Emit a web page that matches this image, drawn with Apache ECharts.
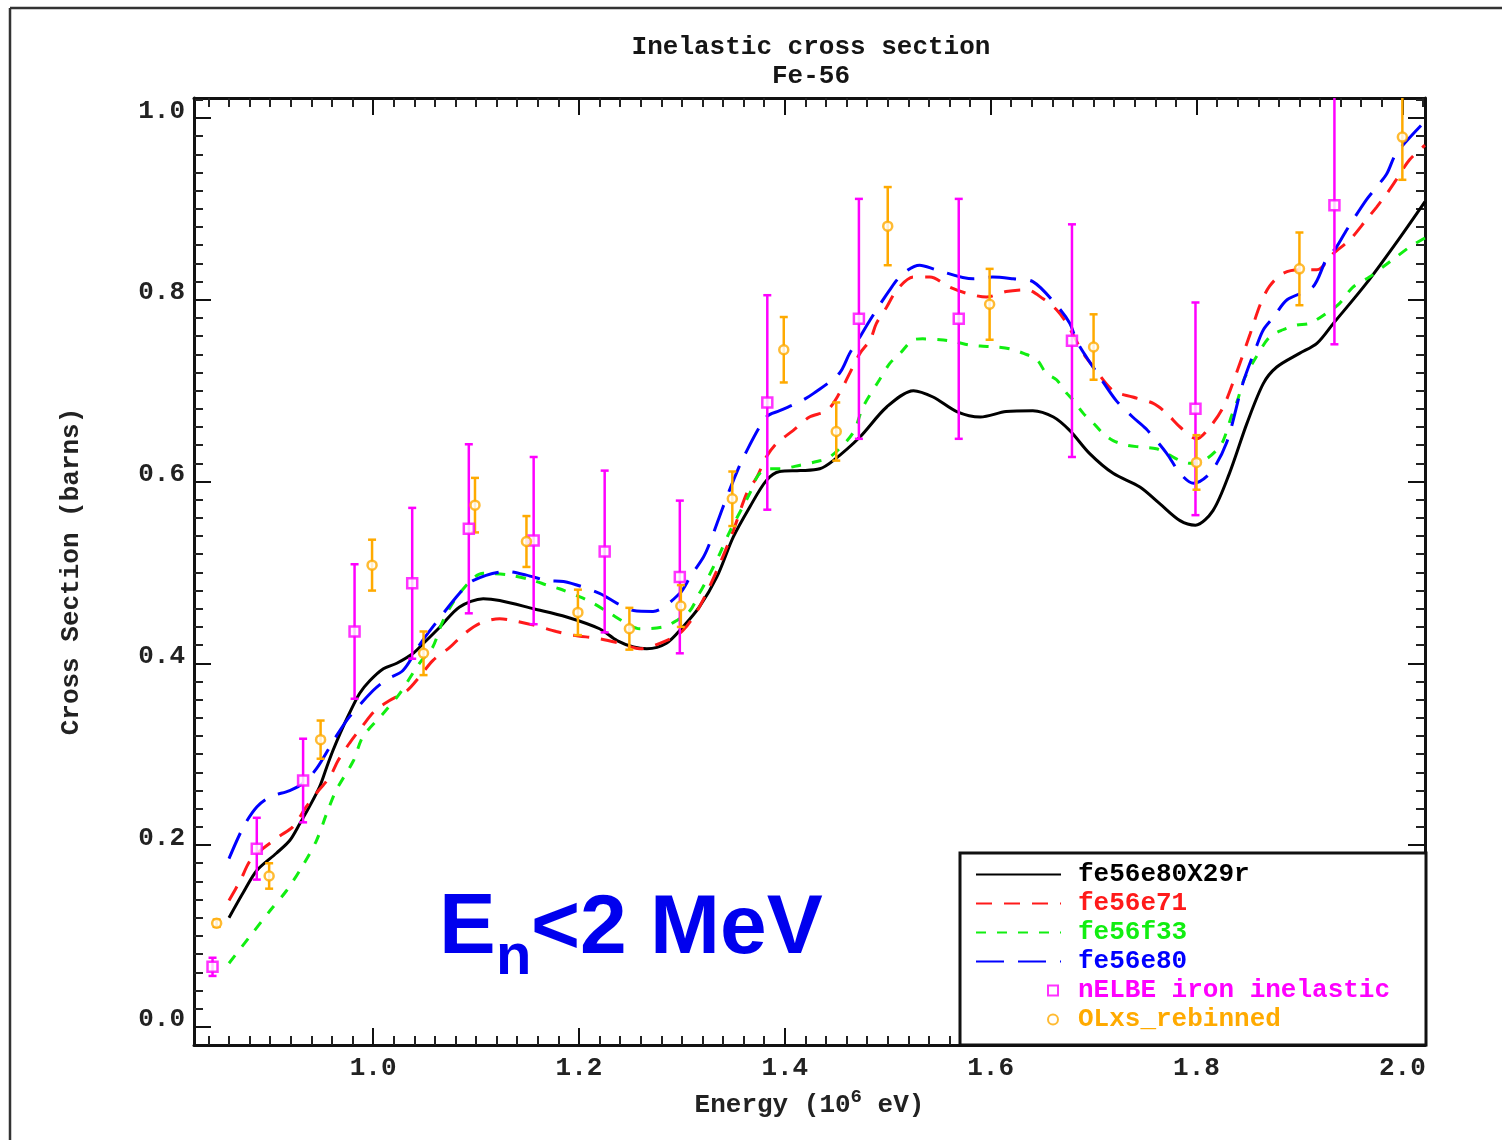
<!DOCTYPE html>
<html><head><meta charset="utf-8">
<script src="https://cdn.jsdelivr.net/npm/echarts@6/dist/echarts.min.js"></script>
<style>html,body{margin:0;padding:0;background:#fff}#c{width:1502px;height:1140px}</style>
</head><body><div id="c"></div>
<script>
// ---------- data ----------
const xTickLabels = ['1.0', '1.2', '1.4', '1.6', '1.8', '2.0'];
const yTickLabels = ['0.0', '0.2', '0.4', '0.6', '0.8', '1.0'];

const fe56e80X29r = [[0.860,0.120],[0.874,0.148],[0.887,0.172],[0.906,0.191],[0.919,0.205],[0.929,0.224],[0.938,0.242],[0.948,0.264],[0.955,0.286],[0.961,0.304],[0.968,0.323],[0.977,0.345],[0.987,0.367],[0.997,0.381],[1.010,0.394],[1.023,0.400],[1.039,0.411],[1.049,0.422],[1.065,0.440],[1.084,0.462],[1.107,0.471],[1.123,0.469],[1.156,0.460],[1.188,0.451],[1.220,0.438],[1.237,0.425],[1.253,0.418],[1.266,0.416],[1.285,0.422],[1.301,0.440],[1.317,0.462],[1.334,0.495],[1.350,0.539],[1.366,0.572],[1.382,0.601],[1.395,0.611],[1.415,0.612],[1.434,0.614],[1.447,0.623],[1.473,0.649],[1.499,0.682],[1.525,0.700],[1.544,0.693],[1.567,0.677],[1.590,0.671],[1.615,0.677],[1.641,0.678],[1.661,0.671],[1.677,0.656],[1.696,0.631],[1.719,0.609],[1.745,0.594],[1.764,0.576],[1.784,0.557],[1.799,0.552],[1.816,0.568],[1.832,0.609],[1.849,0.664],[1.865,0.708],[1.878,0.726],[1.900,0.741],[1.917,0.752],[1.933,0.774],[1.965,0.818],[1.998,0.869],[2.022,0.908]];

const fe56e71 = [[0.860,0.139],[0.871,0.161],[0.882,0.185],[0.908,0.209],[0.922,0.220],[0.935,0.242],[0.947,0.260],[0.958,0.275],[0.966,0.293],[0.977,0.312],[0.989,0.330],[1.002,0.348],[1.016,0.359],[1.033,0.370],[1.045,0.385],[1.058,0.403],[1.075,0.418],[1.087,0.431],[1.104,0.444],[1.123,0.449],[1.136,0.447],[1.156,0.442],[1.178,0.435],[1.194,0.431],[1.220,0.427],[1.240,0.422],[1.259,0.416],[1.285,0.425],[1.301,0.436],[1.317,0.462],[1.334,0.502],[1.350,0.546],[1.363,0.587],[1.373,0.605],[1.382,0.627],[1.392,0.642],[1.408,0.656],[1.424,0.671],[1.441,0.678],[1.453,0.697],[1.463,0.719],[1.473,0.741],[1.483,0.756],[1.489,0.774],[1.499,0.792],[1.509,0.811],[1.525,0.825],[1.541,0.825],[1.560,0.814],[1.577,0.807],[1.596,0.803],[1.615,0.809],[1.635,0.811],[1.651,0.801],[1.664,0.789],[1.674,0.774],[1.690,0.741],[1.700,0.726],[1.719,0.700],[1.738,0.693],[1.758,0.686],[1.771,0.675],[1.784,0.660],[1.800,0.647],[1.813,0.660],[1.826,0.682],[1.839,0.720],[1.852,0.762],[1.862,0.795],[1.871,0.815],[1.884,0.829],[1.900,0.833],[1.917,0.833],[1.933,0.851],[1.949,0.866],[1.965,0.888],[1.975,0.902],[1.985,0.917],[1.994,0.932],[2.007,0.954],[2.022,0.970]];

const fe56f33 = [[0.860,0.070],[0.880,0.099],[0.900,0.128],[0.916,0.150],[0.932,0.178],[0.945,0.205],[0.955,0.235],[0.964,0.260],[0.981,0.293],[0.990,0.319],[1.010,0.345],[1.026,0.367],[1.045,0.400],[1.058,0.418],[1.068,0.447],[1.084,0.477],[1.107,0.499],[1.133,0.497],[1.156,0.491],[1.169,0.486],[1.181,0.482],[1.201,0.473],[1.214,0.466],[1.230,0.455],[1.246,0.444],[1.259,0.438],[1.282,0.440],[1.295,0.447],[1.308,0.458],[1.317,0.477],[1.324,0.491],[1.337,0.521],[1.347,0.546],[1.366,0.587],[1.373,0.605],[1.382,0.614],[1.395,0.614],[1.415,0.618],[1.431,0.622],[1.444,0.627],[1.466,0.653],[1.476,0.682],[1.492,0.712],[1.502,0.730],[1.512,0.741],[1.525,0.756],[1.534,0.757],[1.551,0.756],[1.564,0.754],[1.580,0.750],[1.590,0.749],[1.606,0.748],[1.619,0.746],[1.632,0.741],[1.645,0.734],[1.654,0.719],[1.664,0.712],[1.674,0.697],[1.680,0.690],[1.690,0.675],[1.700,0.664],[1.709,0.653],[1.719,0.645],[1.732,0.640],[1.745,0.638],[1.761,0.636],[1.771,0.631],[1.784,0.623],[1.794,0.620],[1.807,0.623],[1.820,0.635],[1.826,0.645],[1.834,0.672],[1.840,0.690],[1.846,0.712],[1.858,0.737],[1.871,0.759],[1.884,0.767],[1.897,0.772],[1.910,0.774],[1.926,0.785],[1.939,0.796],[1.952,0.814],[1.968,0.825],[1.981,0.836],[1.994,0.847],[2.007,0.858],[2.022,0.868]];

const fe56e80 = [[0.860,0.185],[0.874,0.220],[0.887,0.242],[0.900,0.253],[0.919,0.260],[0.932,0.268],[0.945,0.284],[0.958,0.308],[0.966,0.323],[0.977,0.341],[1.000,0.370],[1.013,0.382],[1.029,0.392],[1.045,0.420],[1.058,0.440],[1.084,0.477],[1.097,0.491],[1.130,0.501],[1.149,0.497],[1.169,0.491],[1.185,0.490],[1.220,0.477],[1.237,0.466],[1.253,0.458],[1.272,0.457],[1.298,0.477],[1.308,0.495],[1.321,0.517],[1.327,0.532],[1.340,0.572],[1.350,0.601],[1.360,0.627],[1.382,0.671],[1.395,0.678],[1.415,0.688],[1.428,0.697],[1.453,0.719],[1.463,0.741],[1.473,0.759],[1.483,0.778],[1.502,0.811],[1.515,0.829],[1.531,0.838],[1.547,0.833],[1.583,0.823],[1.602,0.825],[1.622,0.823],[1.641,0.820],[1.664,0.794],[1.677,0.774],[1.683,0.756],[1.693,0.737],[1.706,0.715],[1.722,0.689],[1.738,0.671],[1.751,0.658],[1.771,0.631],[1.784,0.609],[1.797,0.598],[1.813,0.609],[1.829,0.642],[1.845,0.708],[1.858,0.748],[1.865,0.767],[1.875,0.781],[1.888,0.800],[1.913,0.814],[1.926,0.844],[1.936,0.858],[1.946,0.877],[1.965,0.910],[1.975,0.924],[1.985,0.939],[1.994,0.961],[2.020,0.994]];

const nelbeX   = [0.844,0.887,0.932,0.982,1.038,1.093,1.156,1.225,1.298,1.383,1.472,1.569,1.679,1.799,1.934];
const nelbeY   = [0.066,0.196,0.271,0.435,0.488,0.548,0.535,0.523,0.495,0.687,0.779,0.779,0.755,0.680,0.904];
const nelbeErr = [0.010,0.034,0.046,0.074,0.083,0.093,0.092,0.089,0.084,0.118,0.132,0.132,0.128,0.117,0.153];

const olxsX   = [0.848,0.899,0.949,0.999,1.049,1.099,1.149,1.199,1.249,1.299,1.349,1.399,1.450,1.500,1.599,1.700,1.800,1.900,2.000];
const olxsY   = [0.114,0.166,0.316,0.508,0.411,0.574,0.534,0.456,0.438,0.463,0.581,0.745,0.655,0.881,0.795,0.748,0.621,0.834,0.979];
const olxsErr = [0.004,0.014,0.021,0.028,0.024,0.030,0.028,0.025,0.023,0.023,0.030,0.036,0.032,0.043,0.039,0.036,0.030,0.040,0.047];

// ---------- chart ----------
const X_MIN = 0.826, X_MAX = 2.022, Y_MIN = -0.02, Y_MAX = 1.022;
const MONO = '"Liberation Mono", "DejaVu Sans Mono", monospace';
const C_RED = '#ff1a1a', C_GREEN = '#11ee11', C_BLUE = '#0000ff', C_MAG = '#ff00ff', C_ORA = '#ffaa00';

function tickFmt(labels) {
  return function (v) {
    for (const s of labels) { if (Math.abs(parseFloat(s) - v) < 1e-6) return s; }
    return '';
  };
}
const tickStyle = { inside: true, length: 17, lineStyle: { color: '#111', width: 2 } };
const minorStyle = { show: true, splitNumber: 10, length: 9, lineStyle: { color: '#222', width: 2 } };
const lineAx = { show: true, onZero: false, lineStyle: { color: '#111', width: 3 } };
const labelFont = { fontFamily: MONO, fontSize: 26, fontWeight: 'bold', color: '#222' };

function makeErr(color, capHalf) {
  return function (params, api) {
    const x = api.value(0);
    let lo = api.value(1), hi = api.value(2);
    const capTop = hi <= Y_MAX, capBot = lo >= Y_MIN;
    hi = Math.min(hi, Y_MAX); lo = Math.max(lo, Y_MIN);
    const a = api.coord([x, lo]), b = api.coord([x, hi]);
    const st = { stroke: color, lineWidth: 2.5 };
    const ch = [{ type: 'line', shape: { x1: a[0], y1: a[1], x2: b[0], y2: b[1] }, style: st }];
    if (capTop) ch.push({ type: 'line', shape: { x1: b[0] - capHalf, y1: b[1], x2: b[0] + capHalf, y2: b[1] }, style: st });
    if (capBot) ch.push({ type: 'line', shape: { x1: a[0] - capHalf, y1: a[1], x2: a[0] + capHalf, y2: a[1] }, style: st });
    return { type: 'group', children: ch };
  };
}

function curve(name, data, color, dash) {
  return { name: name, type: 'line', data: data, symbol: 'none', showSymbol: false, smooth: 0.3, z: 3,
    lineStyle: { color: color, width: 3, type: dash }, itemStyle: { color: color } };
}

const chart = echarts.init(document.getElementById('c'), null, { renderer: 'canvas' });
const option = {
  animation: false,
  backgroundColor: '#fff',
  title: {
    text: 'Inelastic cross section\nFe-56',
    left: 806, top: 28, textAlign: 'center',
    textStyle: { fontFamily: MONO, fontSize: 26, fontWeight: 'bold', color: '#151515', lineHeight: 29 }
  },
  grid: { left: 194, right: 77, top: 98, bottom: 95, containLabel: false },
  xAxis: [
    {
      type: 'value', position: 'bottom', min: X_MIN, max: X_MAX, splitNumber: 6,
      axisLine: lineAx, axisTick: tickStyle, minorTick: minorStyle, splitLine: { show: false },
      axisLabel: Object.assign({ margin: 10, formatter: tickFmt(xTickLabels), showMinLabel: true, showMaxLabel: true }, labelFont),
      name: 'Energy (10{sup|6} eV)', nameLocation: 'middle', nameGap: 43,
      nameTextStyle: {
        fontFamily: MONO, fontSize: 26, fontWeight: 'bold', color: '#222', lineHeight: 34,
        rich: { sup: { fontFamily: MONO, fontSize: 19, fontWeight: 'bold', color: '#222', verticalAlign: 'top', lineHeight: 34 } }
      }
    },
    {
      type: 'value', position: 'top', min: X_MIN, max: X_MAX, splitNumber: 6,
      axisLine: lineAx, axisTick: tickStyle, minorTick: minorStyle, splitLine: { show: false },
      axisLabel: { show: false }
    }
  ],
  yAxis: [
    {
      type: 'value', position: 'left', min: Y_MIN, max: Y_MAX, splitNumber: 5,
      axisLine: lineAx, axisTick: tickStyle, minorTick: minorStyle, splitLine: { show: false },
      axisLabel: Object.assign({ margin: 9, verticalAlign: 'bottom', lineHeight: 14, formatter: tickFmt(yTickLabels), showMinLabel: true, showMaxLabel: true }, labelFont),
      name: 'Cross Section (barns)', nameLocation: 'middle', nameGap: 110,
      nameTextStyle: { fontFamily: MONO, fontSize: 26, fontWeight: 'bold', color: '#222' }
    },
    {
      type: 'value', position: 'right', min: Y_MIN, max: Y_MAX, splitNumber: 5,
      axisLine: lineAx, axisTick: tickStyle, minorTick: minorStyle, splitLine: { show: false },
      axisLabel: { show: false }
    }
  ],
  legend: [
    {
      z: 10, left: 975, top: 860, padding: 0, orient: 'vertical', itemWidth: 85, itemHeight: 14, itemGap: 0,
      selectedMode: false,
      itemStyle: { opacity: 0 },
      textStyle: { fontFamily: MONO, fontSize: 26, fontWeight: 'bold', lineHeight: 29, padding: [0, 0, 0, 12] },
      data: [
        { name: 'fe56e80X29r', textStyle: { color: '#000' } },
        { name: 'fe56e71', textStyle: { color: C_RED } },
        { name: 'fe56f33', textStyle: { color: C_GREEN } },
        { name: 'fe56e80', textStyle: { color: C_BLUE } }
      ]
    },
    {
      z: 10, left: 1047, top: 976, padding: 0, orient: 'vertical', itemWidth: 10, itemHeight: 10, itemGap: 0,
      selectedMode: false,
      textStyle: { fontFamily: MONO, fontSize: 26, fontWeight: 'bold', lineHeight: 29, padding: [0, 0, 0, 15] },
      data: [
        { name: 'nELBE iron inelastic', icon: 'rect', textStyle: { color: C_MAG } },
        { name: 'OLxs_rebinned', icon: 'circle', textStyle: { color: C_ORA } }
      ]
    }
  ],
  graphic: [
    { type: 'line', z: 20, shape: { x1: 10, y1: 8, x2: 1502, y2: 8 }, style: { stroke: '#333', lineWidth: 2.5 } },
    { type: 'line', z: 20, shape: { x1: 10, y1: 8, x2: 10, y2: 1140 }, style: { stroke: '#333', lineWidth: 2.5 } },
    { type: 'rect', z: 5, shape: { x: 960, y: 853, width: 466, height: 192 }, style: { fill: '#fff', stroke: '#111', lineWidth: 3 } },
    { type: 'text', z: 20, style: { text: 'E', x: 439, y: 930, verticalAlign: 'middle', fill: '#0000ee', font: 'bold 85px "Liberation Sans", Arial, sans-serif' } },
    { type: 'text', z: 20, style: { text: 'n', x: 496, y: 958, verticalAlign: 'middle', fill: '#0000ee', font: 'bold 58px "Liberation Sans", Arial, sans-serif' } },
    { type: 'text', z: 20, style: { text: '<2 MeV', x: 531, y: 930, verticalAlign: 'middle', fill: '#0000ee', font: 'bold 84px "Liberation Sans", Arial, sans-serif' } }
  ],
  series: [
    curve('fe56e80X29r', fe56e80X29r, '#000', 'solid'),
    curve('fe56e71', fe56e71, C_RED, [16, 12]),
    curve('fe56f33', fe56f33, C_GREEN, [10, 11]),
    curve('fe56e80', fe56e80, C_BLUE, [28, 14]),
    { name: 'nELBE err', type: 'custom', renderItem: makeErr(C_MAG, 4), z: 4,
      data: nelbeX.map((x, i) => [x, nelbeY[i] - nelbeErr[i], nelbeY[i] + nelbeErr[i]]) },
    { name: 'OLxs err', type: 'custom', renderItem: makeErr(C_ORA, 4), z: 4,
      data: olxsX.map((x, i) => [x, olxsY[i] - olxsErr[i], olxsY[i] + olxsErr[i]]) },
    { name: 'nELBE iron inelastic', type: 'scatter', symbol: 'rect', symbolSize: 10, z: 6,
      itemStyle: { color: '#fff', borderColor: C_MAG, borderWidth: 2.5 },
      data: nelbeX.map((x, i) => [x, nelbeY[i]]) },
    { name: 'OLxs_rebinned', type: 'scatter', symbol: 'circle', symbolSize: 9, z: 6,
      itemStyle: { color: '#fff', borderColor: C_ORA, borderWidth: 2.5 },
      data: olxsX.map((x, i) => [x, olxsY[i]]) }
  ]
};
chart.setOption(option);
</script>
</body></html>
